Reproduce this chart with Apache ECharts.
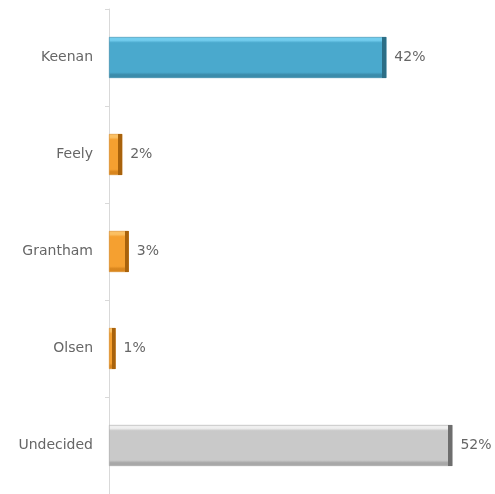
<!DOCTYPE html>
<html>
<head>
<meta charset="utf-8">
<script src="https://cdn.jsdelivr.net/npm/echarts@6/dist/echarts.min.js"></script>
<style>
    html, body {margin: 0; padding: 0; background: #fff;}
    #chart {width: 495px; height: 494px;}
</style>
</head>
<body>
<div id="chart"></div>
<script>
const categories = ['Keenan', 'Feely', 'Grantham', 'Olsen', 'Undecided'];
const values = [42, 2, 3, 1, 52];

// light / main / shade / edge per bar
const blue = ['#72cdee', '#4aa9cd', '#3b8cab', '#2c6e86'];
const orange = ['#fbc063', '#f5a030', '#d9861e', '#a8620c'];
const grey = ['#efefef', '#c9c9c9', '#a8a8a8', '#6e6e6e'];
const bar_colors = [blue, orange, orange, orange, grey];

const px_per_unit = 383 / 58;

function face(c) {
    return {
        type: 'linear', x: 0, y: 0, x2: 0, y2: 1,
        colorStops: [
            {offset: 0, color: c[0]},
            {offset: 0.08, color: c[0]},
            {offset: 0.14, color: c[1]},
            {offset: 0.86, color: c[1]},
            {offset: 0.92, color: c[2]},
            {offset: 1, color: c[2]}
        ]
    };
}

function right_edge(c, v) {
    let k = Math.max(0, 1 - 4 / (v * px_per_unit));
    return {
        type: 'linear', x: 0, y: 0, x2: 1, y2: 0,
        colorStops: [
            {offset: 0, color: 'rgba(0,0,0,0)'},
            {offset: k, color: 'rgba(0,0,0,0)'},
            {offset: k, color: c[3]},
            {offset: 1, color: c[3]}
        ]
    };
}

let chart = echarts.init(document.getElementById('chart'));

let option = {
    animation: false,
    grid: {left: 109, top: 9, width: 383, height: 490},
    xAxis: {
        type: 'value',
        min: 0,
        max: 58,
        show: false
    },
    yAxis: {
        type: 'category',
        inverse: true,
        data: categories,
        axisLine: {lineStyle: {color: '#d9d9d9', width: 1}},
        axisTick: {show: true, length: 4, lineStyle: {color: '#d9d9d9'}},
        axisLabel: {
            margin: 16,
            color: '#666666',
            fontFamily: 'DejaVu Sans',
            fontSize: 14
        },
        splitLine: {show: false}
    },
    series: [
        {
            type: 'bar',
            barWidth: 41,
            data: values.map((v, i) => ({
                value: v,
                itemStyle: {color: face(bar_colors[i]), borderColor: bar_colors[i][2], borderWidth: 0.6}
            }))
        },
        {
            type: 'bar',
            barWidth: 41,
            barGap: '-100%',
            z: 3,
            data: values.map((v, i) => ({
                value: v,
                itemStyle: {color: right_edge(bar_colors[i], v)}
            })),
            label: {
                show: true,
                position: 'right',
                distance: 8,
                formatter: '{c}%',
                color: '#666666',
                fontFamily: 'DejaVu Sans',
                fontSize: 14
            }
        }
    ]
};

chart.setOption(option);
</script>
</body>
</html>
